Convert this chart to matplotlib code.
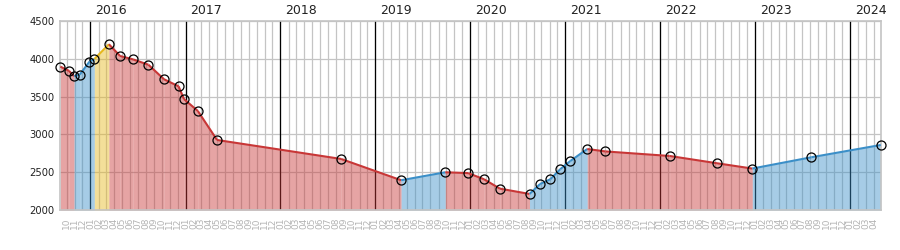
import numpy as np
import pandas as pd
import matplotlib
matplotlib.use('Agg')
import matplotlib.pyplot as plt
import matplotlib.dates as mdates

# observations (date, value)
dates = ['2015-09-07', '2015-10-10', '2015-10-30', '2015-11-21', '2015-12-28',
         '2016-01-16', '2016-03-12', '2016-04-24', '2016-06-13', '2016-08-11',
         '2016-10-10', '2016-12-05', '2016-12-26', '2017-02-17', '2017-05-02',
         '2018-08-22', '2019-04-10', '2019-09-27', '2019-12-24', '2020-02-23',
         '2020-04-24', '2020-08-16', '2020-09-26', '2020-11-04', '2020-12-12',
         '2021-01-20', '2021-03-26', '2021-06-04', '2022-02-06', '2022-08-07',
         '2022-12-21', '2023-08-05', '2024-04-28']
values = [3895, 3840, 3770, 3790, 3960, 3995, 4190, 4035, 3990, 3920,
          3728, 3635, 3466, 3310, 2927, 2677, 2396, 2501, 2490, 2409,
          2285, 2215, 2347, 2409, 2541, 2650, 2808, 2776, 2716, 2620,
          2550, 2699, 2861]
years = [2016, 2017, 2018, 2019, 2020, 2021, 2022, 2023, 2024]
y_ticks = [2000, 2500, 3000, 3500, 4000, 4500]

RED = '#c83737'
BLUE = '#3b8fc8'
YELLOW = '#e6b81e'

x = pd.to_datetime(dates)
v = np.array(values)
peak = int(np.argmax(v))

fig = plt.figure(figsize=(9, 2.5), dpi=100)
ax = fig.add_axes([0.067, 0.159, 0.9116, 0.758])

ax.set_xlim(x[0], x[-1])
ax.set_ylim(2000, 4500)
ax.set_yticks(y_ticks)

ax.xaxis.set_major_locator(mdates.MonthLocator())
ax.xaxis.set_major_formatter(mdates.DateFormatter('%m'))
ax.tick_params(axis='x', length=0, pad=5, labelsize=6.5, labelcolor='#b4b4b4', labelrotation=90)
ax.tick_params(axis='y', length=0, pad=4, labelsize=7.2, labelcolor='#222222')

ax.grid(True, color='#c4c4c4', lw=0.9, zorder=0)
ax.set_axisbelow(True)
for s in ax.spines.values():
    s.set_color('#c4c4c4')
    s.set_linewidth(1.2)

for yr in years:
    d = pd.Timestamp(f'{yr}-01-01')
    ax.axvline(d, color='black', lw=0.9, zorder=1)
    ax.annotate(str(yr), xy=(d, 1), xycoords=('data', 'axes fraction'),
                xytext=(3.4, 2.5), textcoords='offset points',
                ha='left', va='bottom', fontsize=9, color='#222222')

for i in range(len(v) - 1):
    if i == peak - 1:
        c = YELLOW
    elif v[i + 1] >= v[i]:
        c = BLUE
    else:
        c = RED
    ax.fill_between(x[i:i + 2], v[i:i + 2], 2000, color=c, alpha=0.45, lw=0, zorder=2)
    ax.plot(x[i:i + 2], v[i:i + 2], color=c, lw=1.5, zorder=3, solid_capstyle='butt')

ax.plot(x, v, ls='none', marker='o', ms=6.5, mfc='none', mec='black', mew=0.9, zorder=4, clip_on=False)

fig.savefig('out.png', dpi=100)
